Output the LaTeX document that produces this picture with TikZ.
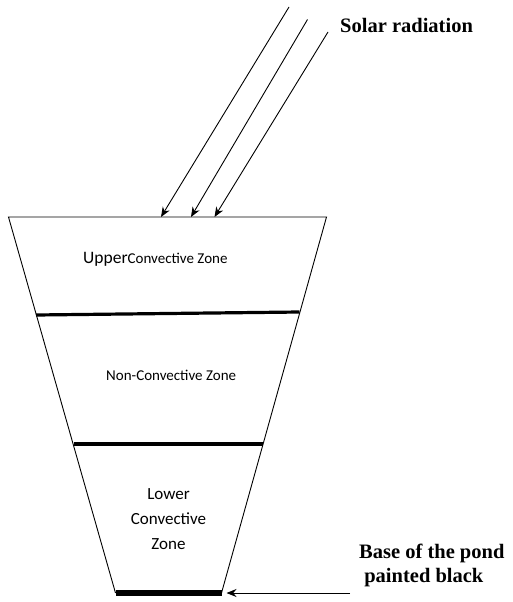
\documentclass[tikz,border=0pt]{standalone}
\usepackage{fontspec}
\setmainfont{Liberation Serif}
\newfontfamily\zonefont{Carlito}
\usetikzlibrary{arrows.meta}
\begin{document}
\begin{tikzpicture}[x=1pt, y=-1pt,
        wall/.style={line width=0.9pt},
        layer/.style={line width=3.2pt},
        ray/.style={-{Stealth[length=10pt, width=8pt]}, line width=0.9pt},
        zone/.style={font=\zonefont\fontsize{15}{18}\selectfont, inner sep=0pt},
        note/.style={font=\bfseries\fontsize{20.5}{24}\selectfont,
                     align=left, inner sep=0pt}]
      \useasboundingbox (0,0) rectangle (512,602);
      % Bassin
      \coordinate (tl) at (8.5,217);
      \coordinate (tr) at (326.5,217);
      \coordinate (bl) at (115.5,593);
      \coordinate (br) at (221.5,593);
      \draw[wall] (bl) -- (tl) -- (tr) -- (br);
      % Couches
      \draw[layer] (36,315) -- (299.5,312);
      \draw[layer] (74,444) -- (262.5,444);
      \draw[line width=6.5pt] (bl) -- (br);
      % Rayonnement solaire
      \coordinate (r1) at (289,7);    \coordinate (s1) at (161,217);
      \coordinate (r2) at (307.5,19.5); \coordinate (s2) at (191,217);
      \coordinate (r3) at (328,32);   \coordinate (s3) at (214.5,217);
      \foreach \n in {1,2,3}
        \draw[ray] (r\n) -- (s\n);
      \node[note, anchor=base west] (solar) at (340,33) {Solar radiation};
      % Zones
      \node[zone, anchor=base west] (ucz) at (83,263)
            {{\fontsize{17.5}{18}\selectfont Upper}Convective Zone};
      \node[zone, anchor=base west] (ncz) at (106,380.5)
            {Non-Convective Zone};
      \node[zone, font=\zonefont\fontsize{17}{25}\selectfont, align=center,
            anchor=base] (lcz) at (168.5,549) {Lower\\Convective\\Zone};
      % Fond noirci
      \node[note, anchor=base west] (base) at (359,582)
            {Base of the pond\\\ painted black};
      \coordinate (b1) at (350,593);
      \coordinate (b2) at (226.5,593);
      \draw[ray] (b1) -- (b2);
    \end{tikzpicture}
\end{document}
